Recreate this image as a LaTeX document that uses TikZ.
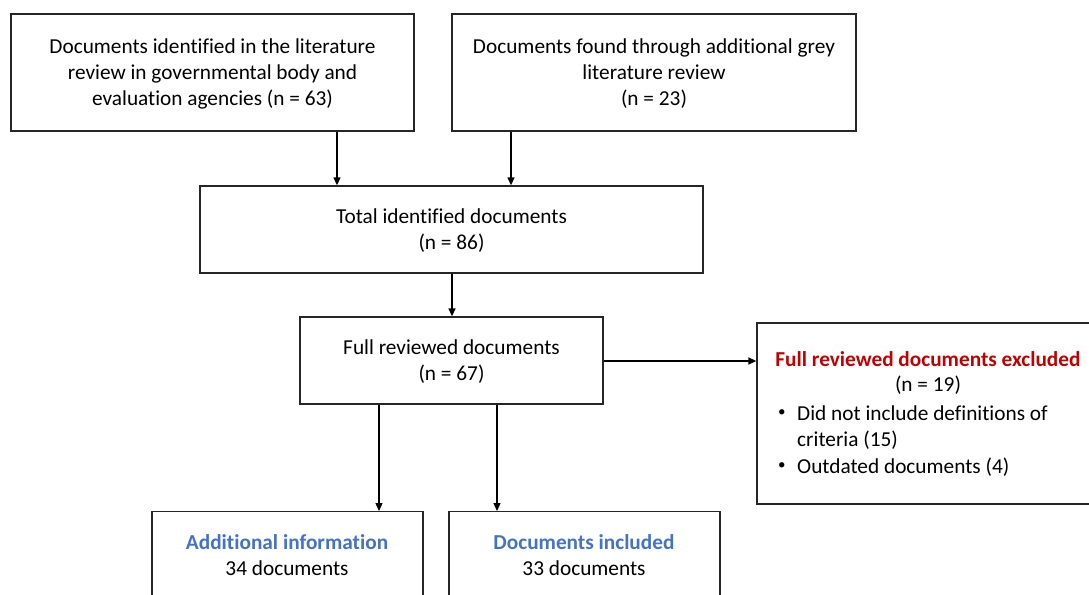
\documentclass[tikz,border=0pt]{standalone}
\usepackage{fontspec}
\setmainfont[Ligatures=NoCommon]{Carlito}
\usetikzlibrary{arrows.meta}
\definecolor{hblue}{HTML}{4472C4}
\definecolor{hred}{HTML}{C00000}
\newcommand{\fz}{\fontsize{21.3}{26}\selectfont}
\newcommand{\smbul}{{\fontsize{15}{15}\selectfont\textbullet}}
\begin{document}
\begin{tikzpicture}[x=1pt,y=-1pt,
  box/.style={draw=black!85,line width=1.3pt,rectangle,inner sep=0pt,rectangle},
  txt/.style={inner sep=0pt,font=\fz,align=center},
  arr/.style={line width=1.3pt,-{Triangle[length=8pt,width=7pt]}}]
\useasboundingbox (0,0) rectangle (1089,594);
\clip (0,0) rectangle (1089,594);
\node[box,minimum width=403pt,minimum height=117pt] (A) at (212.5,72.5) {};
\node[txt] (At) at (212.5,74)
  {Documents identified in the literature\\review in governmental body and\\evaluation agencies (n = 63)};
\node[box,minimum width=404pt,minimum height=117pt] (B) at (654,72.5) {};
\node[txt] (Bt) at (654,74)
  {Documents found through additional grey\\literature review\\(n = 23)};
\node[box,minimum width=503pt,minimum height=87pt] (C) at (451.5,229.5) {};
\node[txt] (Ct) at (451.5,231) {Total identified documents\\(n = 86)};
\node[box,minimum width=303pt,minimum height=87pt] (D) at (451.5,360.5) {};
\node[txt] (Dt) at (451.5,362) {Full reviewed documents\\(n = 67)};
\node[box,minimum width=345pt,minimum height=181pt] (E) at (929.5,413.5) {};
\node[txt,text=hred,font=\fz\bfseries] (Et) at (928,359.5) {Full reviewed documents excluded};
\node[txt] (En) at (928,385.5) {(n = 19)};
\node[txt,anchor=west] (Eb1) at (778,413.5) {\smbul};
\node[txt,anchor=west,align=left] (Ei1) at (797,427.5) {Did not include definitions of\\criteria (15)};
\node[txt,anchor=west] (Eb2) at (778,466.5) {\smbul};
\node[txt,anchor=west] (Ei2) at (797,467.5) {Outdated documents (4)};
\node[box,minimum width=271pt,minimum height=120pt,anchor=north] (F) at (287.5,511) {};
\node[txt] (Ft) at (287,555) {\textcolor{hblue}{\bfseries Additional information}\\34 documents};
\node[box,minimum width=271pt,minimum height=120pt,anchor=north] (G) at (584.5,511) {};
\node[txt] (Gt) at (584,555) {\textcolor{hblue}{\bfseries Documents included}\\33 documents};
\draw[arr] (A.south -| 337,0) -- (C.north -| 337,0);
\draw[arr] (B.south -| 511,0) -- (C.north -| 511,0);
\draw[arr] (C.south -| 452,0) -- (D.north -| 452,0);
\draw[arr] (D.east |- 0,361) -- (E.west |- 0,361);
\draw[arr] (D.south -| 379,0) -- (F.north -| 379,0);
\draw[arr] (D.south -| 497,0) -- (G.north -| 497,0);
\end{tikzpicture}
\end{document}
